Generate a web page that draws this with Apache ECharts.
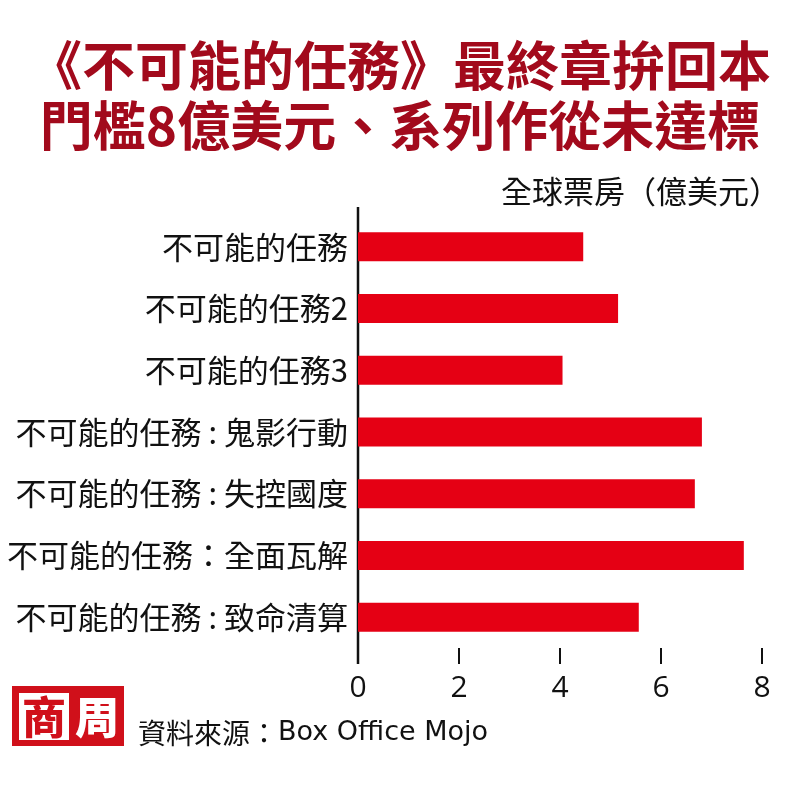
<!DOCTYPE html>
<html>
<head>
<meta charset="utf-8">
<script src="https://cdn.jsdelivr.net/npm/echarts@6/dist/echarts.min.js"></script>
<style>
html,body{margin:0;padding:0;background:#fff;}
#chart{width:800px;height:796px;}
</style>
</head>
<body>
<div id="chart"></div>
<script>
const titleLines = ['《不可能的任務》最終章拚回本', '門檻8億美元、系列作從未達標'];
const unitLabel = '全球票房（億美元）';
const sourceLabel = '資料來源：';
const sourceName = 'Box Office Mojo';
const categories = [
  '不可能的任務',
  '不可能的任務2',
  '不可能的任務3',
  '不可能的任務 : 鬼影行動',
  '不可能的任務 : 失控國度',
  '不可能的任務：全面瓦解',
  '不可能的任務 : 致命清算'
];
const grossValues = [4.46, 5.15, 4.05, 6.81, 6.67, 7.64, 5.56];
const xTicks = [0, 2, 4, 6, 8];

const CJK = '"Noto Sans CJK TC", "Noto Sans CJK SC", sans-serif';
const chart = echarts.init(document.getElementById('chart'), null, {renderer: 'canvas'});

const option = {
  backgroundColor: '#ffffff',
  animation: false,
  grid: {left: 358, right: 38, top: 216, bottom: 148, containLabel: false},
  xAxis: {
    type: 'value',
    min: xTicks[0],
    max: xTicks[xTicks.length - 1],
    interval: xTicks[1] - xTicks[0],
    axisLine: {show: false},
    axisTick: {show: true, length: 16, lineStyle: {color: '#111', width: 2}},
    splitLine: {show: false},
    axisLabel: {margin: 25, fontSize: 30, color: '#111', fontFamily: '"Open Sans", ' + CJK}
  },
  yAxis: {
    type: 'category',
    inverse: true,
    data: categories,
    axisLine: {show: false},
    axisTick: {show: false},
    axisLabel: {margin: 10, fontSize: 31, color: '#111', fontFamily: CJK}
  },
  series: [{
    type: 'bar',
    data: grossValues,
    barWidth: 29,
    itemStyle: {color: '#E50014'}
  }],
  graphic: [
    {type: 'text', left: 'center', top: 39, style: {text: titleLines[0], font: 'bold 53px ' + CJK, fill: '#A20A1C'}},
    {type: 'text', left: 'center', top: 99, style: {text: titleLines[1], font: 'bold 53px ' + CJK, fill: '#A20A1C'}},
    {type: 'text', right: 20, top: 176, style: {text: unitLabel, font: '31px ' + CJK, fill: '#111'}},
    {type: 'rect', shape: {x: 12, y: 686, width: 112, height: 60}, style: {fill: '#D0101A'}},
    {type: 'rect', shape: {x: 19, y: 693, width: 50, height: 47}, style: {fill: '#ffffff'}},
    {type: 'text', x: 44, y: 717, style: {text: '商', font: '900 44px ' + CJK, fill: '#D0101A', align: 'center', verticalAlign: 'middle'}},
    {type: 'text', x: 97, y: 717, style: {text: '周', font: '900 44px ' + CJK, fill: '#ffffff', align: 'center', verticalAlign: 'middle'}},
    {type: 'text', x: 138, y: 733, style: {
      text: '{a|' + sourceLabel + '}{b|' + sourceName + '}',
      verticalAlign: 'middle',
      rich: {
        a: {font: '28px ' + CJK, fill: '#111'},
        b: {font: '27px "DejaVu Sans", ' + CJK, fill: '#111'}
      }
    }}
  ]
};
chart.setOption(option);

// full-height vertical axis line at x = 0
const x0 = chart.convertToPixel({xAxisIndex: 0}, 0);
chart.setOption({
  graphic: option.graphic.concat([
    {type: 'line', shape: {x1: x0, y1: 207, x2: x0, y2: 664}, style: {stroke: '#111', lineWidth: 2.5}}
  ])
});
</script>
</body>
</html>
